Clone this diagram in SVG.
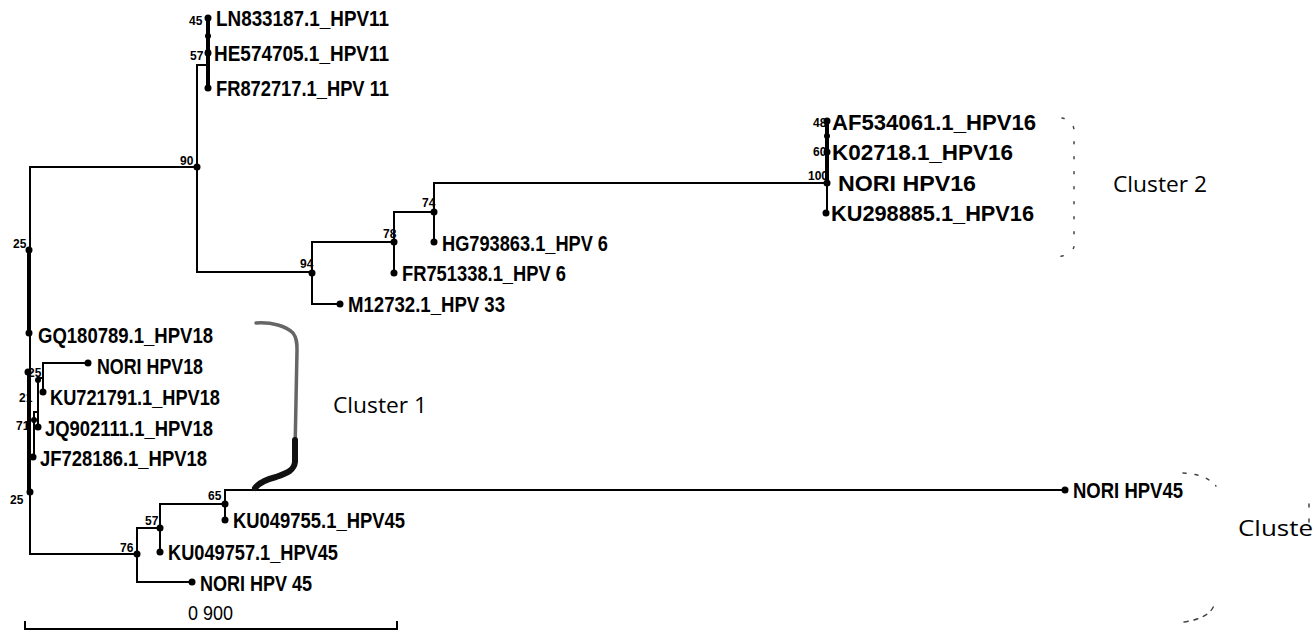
<svg xmlns="http://www.w3.org/2000/svg" width="1314" height="635" viewBox="0 0 1314 635">
<style>
.br{stroke:#000;stroke-width:2;fill:none}
.thk{stroke:#000;stroke-width:4;fill:none}
.dot{fill:#000}
.lb{font-family:"Liberation Sans Narrow","Liberation Sans",Arial,sans-serif;font-weight:bold;font-size:22px;fill:#000}
.bs{font-family:"Liberation Sans Narrow","Liberation Sans",Arial,sans-serif;font-weight:bold;font-size:12px;fill:#000}
.cl{font-family:"Open Sans",Lato,sans-serif;font-size:22px;fill:#000}
.sc{font-family:"Liberation Sans Narrow","Liberation Sans",Arial,sans-serif;font-size:21px;fill:#000}
.bk{fill:none;stroke-linecap:round}
</style>
<rect width="1314" height="635" fill="#fff"/>
<g id="connectors">
<path class="br" d="M197,167 H30 V554 H137"/>
<path class="br" d="M208,65 H197 V272 H312"/>
<path class="thk" d="M208,18 V88"/>
<path class="br" d="M340,304 H312 V242 H394"/>
<path class="br" d="M394,273 V212 H434"/>
<path class="br" d="M434,242 V183 H827"/>
<path class="thk" d="M827,120 V183"/>
<path class="br" d="M827,183 V213"/>
<path class="thk" d="M29,250 V333"/>
<path class="thk" d="M29,370 V492"/>
<path class="br" d="M88,363 H43 V392"/>
<path class="br" d="M43,378 H38 V427"/>
<path class="br" d="M38,412 H34 V457"/>
<path class="br" d="M137,554 V528 H160 V552"/>
<path class="br" d="M137,554 V582 H192"/>
<path class="br" d="M160,528 V504 H225 V520"/>
<path class="br" d="M225,504 V490 H1064"/>
<path class="br" d="M25,621 V629 H397 V621"/>
</g>
<g id="internal-nodes">
<circle class="dot" cx="208" cy="36" r="3"/>
<circle class="dot" cx="208" cy="52" r="3"/>
<circle class="dot" cx="197" cy="167" r="3.5"/>
<circle class="dot" cx="312" cy="273" r="3.5"/>
<circle class="dot" cx="394" cy="242" r="3.5"/>
<circle class="dot" cx="434" cy="212" r="3.5"/>
<circle class="dot" cx="827" cy="136" r="3"/>
<circle class="dot" cx="827" cy="183" r="3.5"/>
<circle class="dot" cx="29" cy="250" r="3.5"/>
<circle class="dot" cx="28" cy="372" r="3.5"/>
<circle class="dot" cx="30" cy="492" r="3.5"/>
<circle class="dot" cx="38" cy="380" r="3"/>
<circle class="dot" cx="34" cy="420" r="3"/>
<circle class="dot" cx="137" cy="554" r="3.5"/>
<circle class="dot" cx="160" cy="528" r="3.5"/>
<circle class="dot" cx="225" cy="504" r="3.5"/>
<text class="bs" x="189" y="25">45</text>
<text class="bs" x="190" y="60">57</text>
<text class="bs" x="180" y="165">90</text>
<text class="bs" x="13" y="248">25</text>
<text class="bs" x="422" y="207">74</text>
<text class="bs" x="383" y="238">78</text>
<text class="bs" x="300" y="268">94</text>
<text class="bs" x="813" y="127">48</text>
<text class="bs" x="813" y="156">60</text>
<text class="bs" x="808" y="180">100</text>
<text class="bs" x="28" y="377">25</text>
<text class="bs" x="19" y="402">21</text>
<text class="bs" x="16" y="430">71</text>
<text class="bs" x="10" y="504">25</text>
<text class="bs" x="208" y="500">65</text>
<text class="bs" x="145" y="525">57</text>
<text class="bs" x="120" y="552">76</text>
</g>
<g id="LN833187"><circle class="dot" cx="208" cy="18" r="3.5"/><text class="lb" x="216" y="26" textLength="173" lengthAdjust="spacingAndGlyphs">LN833187.1_HPV11</text></g>
<g id="HE574705"><circle class="dot" cx="208" cy="53" r="3.5"/><text class="lb" x="214" y="61" textLength="175" lengthAdjust="spacingAndGlyphs">HE574705.1_HPV11</text></g>
<g id="FR872717"><circle class="dot" cx="208" cy="88" r="3.5"/><text class="lb" x="216" y="96" textLength="173" lengthAdjust="spacingAndGlyphs">FR872717.1_HPV 11</text></g>
<g id="AF534061"><circle class="dot" cx="827" cy="121" r="3.5"/><text class="lb" x="832" y="130" textLength="204" lengthAdjust="spacingAndGlyphs">AF534061.1_HPV16</text></g>
<g id="K02718"><circle class="dot" cx="827" cy="152" r="3.5"/><text class="lb" x="832" y="160" textLength="181" lengthAdjust="spacingAndGlyphs">K02718.1_HPV16</text></g>
<g id="NORI-HPV16"><text class="lb" x="838" y="191" textLength="138" lengthAdjust="spacingAndGlyphs">NORI HPV16</text></g>
<g id="KU298885"><circle class="dot" cx="826" cy="213" r="3.5"/><text class="lb" x="831" y="221" textLength="203" lengthAdjust="spacingAndGlyphs">KU298885.1_HPV16</text></g>
<g id="HG793863"><circle class="dot" cx="434" cy="242" r="3.5"/><text class="lb" x="442" y="251" textLength="166" lengthAdjust="spacingAndGlyphs">HG793863.1_HPV 6</text></g>
<g id="FR751338"><circle class="dot" cx="394" cy="273" r="3.5"/><text class="lb" x="402" y="281" textLength="164" lengthAdjust="spacingAndGlyphs">FR751338.1_HPV 6</text></g>
<g id="M12732"><circle class="dot" cx="340" cy="304" r="3.5"/><text class="lb" x="348" y="312" textLength="157" lengthAdjust="spacingAndGlyphs">M12732.1_HPV 33</text></g>
<g id="GQ180789"><circle class="dot" cx="29" cy="333" r="3.5"/><text class="lb" x="38" y="343" textLength="175" lengthAdjust="spacingAndGlyphs">GQ180789.1_HPV18</text></g>
<g id="NORI-HPV18"><circle class="dot" cx="88" cy="363" r="3.5"/><text class="lb" x="97" y="374" textLength="106" lengthAdjust="spacingAndGlyphs">NORI HPV18</text></g>
<g id="KU721791"><circle class="dot" cx="43" cy="392" r="3.5"/><text class="lb" x="50" y="405" textLength="170" lengthAdjust="spacingAndGlyphs">KU721791.1_HPV18</text></g>
<g id="JQ902111"><circle class="dot" cx="38" cy="427" r="3.5"/><text class="lb" x="45" y="436" textLength="168" lengthAdjust="spacingAndGlyphs">JQ902111.1_HPV18</text></g>
<g id="JF728186"><circle class="dot" cx="33" cy="457" r="3.5"/><text class="lb" x="40" y="466" textLength="167" lengthAdjust="spacingAndGlyphs">JF728186.1_HPV18</text></g>
<g id="KU049755"><circle class="dot" cx="225" cy="520" r="3.5"/><text class="lb" x="233" y="528" textLength="172" lengthAdjust="spacingAndGlyphs">KU049755.1_HPV45</text></g>
<g id="KU049757"><circle class="dot" cx="160" cy="552" r="3.5"/><text class="lb" x="168" y="560" textLength="170" lengthAdjust="spacingAndGlyphs">KU049757.1_HPV45</text></g>
<g id="NORI-HPV-45"><circle class="dot" cx="192" cy="582" r="3.5"/><text class="lb" x="200" y="591" textLength="112" lengthAdjust="spacingAndGlyphs">NORI HPV 45</text></g>
<g id="NORI-HPV45"><circle class="dot" cx="1065" cy="490" r="3.5"/><text class="lb" x="1073" y="498" textLength="110" lengthAdjust="spacingAndGlyphs">NORI HPV45</text></g>
<g id="scale"><text class="sc" x="188" y="620" textLength="45" lengthAdjust="spacingAndGlyphs">0 900</text></g>
<g id="cluster1">
<path class="bk" d="M256,323 C272,322 286,326 293,333 C297,338 297,344 297,350 L295,452" stroke="#666" stroke-width="3.5"/>
<path class="bk" d="M295,440 L295,462 C294,470 288,473 276,477 C264,480 258,484 255,488" stroke="#111" stroke-width="6"/>
<text class="cl" x="333" y="413" textLength="94" lengthAdjust="spacingAndGlyphs">Cluster 1</text>
</g>
<g id="cluster2">
<path class="bk" d="M1062,118 Q1073,120 1074,130 V246 Q1073,256 1050,258" stroke="#444" stroke-width="1.5" stroke-dasharray="2 13"/>
<text class="cl" x="1113" y="192" textLength="94" lengthAdjust="spacingAndGlyphs">Cluster 2</text>
</g>
<g id="cluster3">
<path class="bk" d="M1183,473 Q1206,474 1216,486" stroke="#444" stroke-width="1.5" stroke-dasharray="3 9"/>
<path class="bk" d="M1309,504 V525" stroke="#444" stroke-width="1.5" stroke-dasharray="3 12"/>
<path class="bk" d="M1184,622 Q1210,618 1214,605" stroke="#444" stroke-width="1.5" stroke-dasharray="4 6"/>
<text class="cl" x="1238" y="536" textLength="75" lengthAdjust="spacingAndGlyphs">Cluste</text>
</g>
</svg>
